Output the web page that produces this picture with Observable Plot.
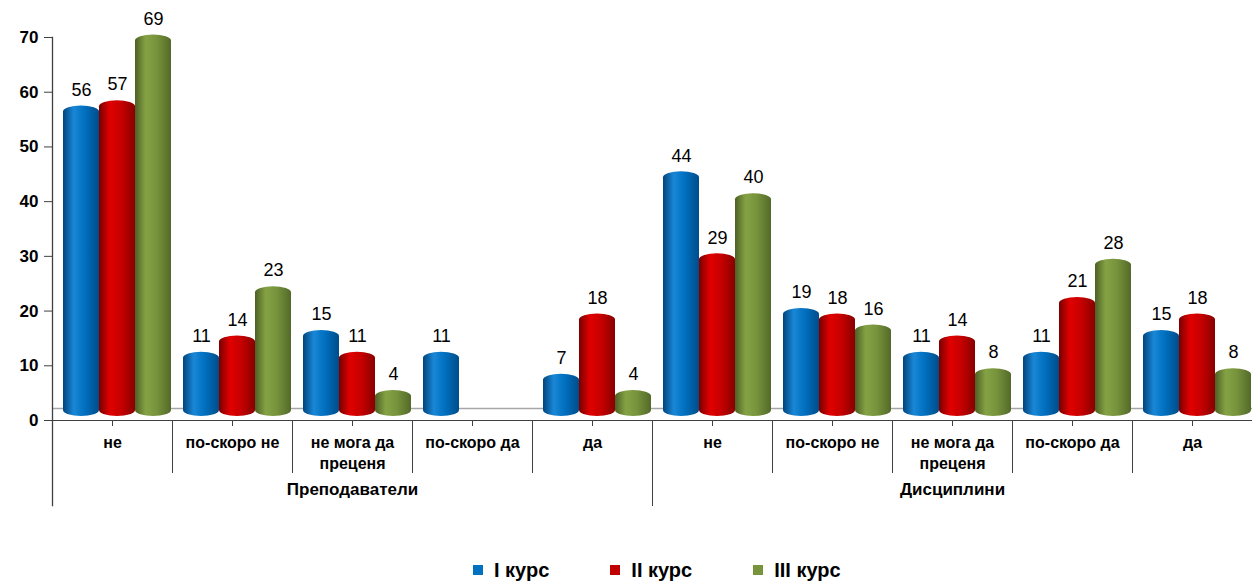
<!DOCTYPE html>
<html><head><meta charset="utf-8">
<script src="https://cdn.jsdelivr.net/npm/d3@7"></script>
<script src="https://cdn.jsdelivr.net/npm/@observablehq/plot@0.6"></script>
<style>
body{margin:0;background:#fff;font-family:"Liberation Sans",Arial,sans-serif;}
#chart svg{display:block}
.legend{display:flex;justify-content:flex-start;height:62px;box-sizing:border-box;padding-top:37px;padding-left:473px;font-weight:bold;font-size:20px;line-height:22px;color:#000}
.legend .item{display:flex;align-items:center;margin-right:61px}
.legend .sw{width:10px;height:10px;margin-right:11px}
</style></head><body><div id="chart"></div><div class="legend" id="legend"></div><script>
const groups = ["Преподаватели", "Дисциплини"];
const categories = ["не", "по-скоро не", "не мога да\nпреценя", "по-скоро да", "да"];
const series = ["I курс", "II курс", "III курс"];
const course1 = [56, 11, 15, 11, 7, 44, 19, 11, 11, 15];
const course2 = [57, 14, 11, null, 18, 29, 18, 14, 21, 18];
const course3 = [69, 23, 4, null, 4, 40, 16, 8, 28, 8];
const yTicks = [0, 10, 20, 30, 40, 50, 60, 70];
const seriesColors = ["#0070c0", "#c00000", "#77933c"];

const cells = [];
groups.forEach((g, gi) => categories.forEach((c, ci) => cells.push({group: g, cat: c, key: g + "|" + c})));
const keys = cells.map(d => d.key);
const data = [];
[course1, course2, course3].forEach((arr, si) => cells.forEach((c, i) => {
  if (arr[i] != null) data.push({key: c.key, series: series[si], value: arr[i]});
}));
const groupCells = groups.map((g, gi) => ({group: g, key: cells[gi * categories.length + 2].key, first: cells[gi * categories.length].key}));

const chart = Plot.plot({
  width: 1254,
  height: 520,
  marginLeft: 49,
  marginRight: 0,
  marginTop: 37,
  marginBottom: 100,
  style: {fontFamily: "Liberation Sans, Arial, sans-serif", color: "#000", background: "#fff"},
  fx: {domain: keys, padding: 0, axis: null},
  x: {domain: series, paddingInner: 0, paddingOuter: 0.13, axis: null},
  y: {domain: [0, 70], axis: null},
  color: {domain: series, range: ["url(#gBlue)", "url(#gRed)", "url(#gGreen)"]},
  marks: [
    Plot.ruleY([0], {dy: -12, stroke: "#a6a6a6", strokeWidth: 1.5}),
    Plot.axisY(yTicks, {label: null, tickSize: 8, tickPadding: 6, fontSize: 17, fontWeight: "bold", stroke: "#404040", tickFormat: d => d}),
    Plot.frame({anchor: "left", fx: () => keys[0], insetBottom: -85, stroke: "#404040", strokeWidth: 1.3}),
    Plot.frame({anchor: "left", insetTop: 383, insetBottom: -52, stroke: "#404040"}),
    Plot.frame({anchor: "left", fx: () => groupCells[1].first, insetBottom: -85, insetTop: 383, stroke: "#404040"}),
    Plot.ruleY([0], {stroke: "#404040"}),
    Plot.ruleX(cells, {fx: "key", x: () => series[1], y1: 0, y2: 0, insetBottom: -6, stroke: "#404040"}),
    Plot.barY(data, {fx: "key", x: "series", y: "value", fill: "series", dx: 5, insetTop: -8, insetBottom: 4, rx: 20, ry: 6}),
    Plot.text(data, {fx: "key", x: "series", y: "value", text: d => String(d.value), dx: 5, dy: -24, fontSize: 18, fill: "#000"}),
    Plot.text(cells, {fx: "key", text: "cat", frameAnchor: "bottom", lineAnchor: "top", dy: 12, fontSize: 16, fontWeight: "bold", lineHeight: 1.35, fill: "#000"}),
    Plot.text(groupCells, {fx: "key", text: "group", frameAnchor: "bottom", dy: 74, fontSize: 17, fontWeight: "bold", fill: "#000"})
  ]
});

const defs = `<defs>
<linearGradient id="gBlue" x1="0" x2="1" y1="0" y2="0"><stop offset="0" stop-color="#00457c"/><stop offset="0.3" stop-color="#1a86d6"/><stop offset="0.6" stop-color="#0070c0"/><stop offset="1" stop-color="#004d8a"/></linearGradient>
<linearGradient id="gRed" x1="0" x2="1" y1="0" y2="0"><stop offset="0" stop-color="#780000"/><stop offset="0.3" stop-color="#e00000"/><stop offset="0.6" stop-color="#c80000"/><stop offset="1" stop-color="#880000"/></linearGradient>
<linearGradient id="gGreen" x1="0" x2="1" y1="0" y2="0"><stop offset="0" stop-color="#4c6024"/><stop offset="0.3" stop-color="#85a345"/><stop offset="0.6" stop-color="#77933c"/><stop offset="1" stop-color="#536a29"/></linearGradient>
</defs>`;
chart.insertAdjacentHTML("afterbegin", defs);
document.getElementById("chart").appendChild(chart);

const legend = document.getElementById("legend");
series.forEach((s, i) => {
  const item = document.createElement("div");
  item.className = "item";
  item.innerHTML = `<span class="sw" style="background:${seriesColors[i]}"></span><span>${s}</span>`;
  legend.appendChild(item);
});
</script></body></html>
